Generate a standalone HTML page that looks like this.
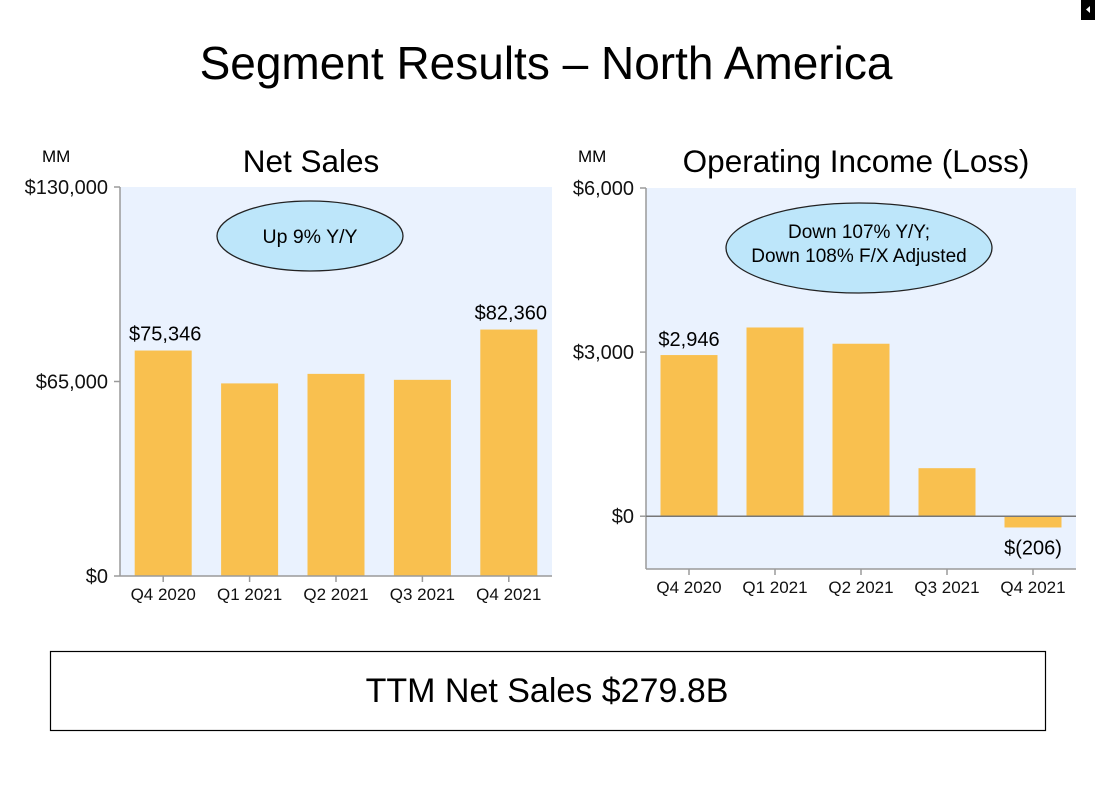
<!DOCTYPE html>
<html><head><meta charset="utf-8">
<style>
body{margin:0;background:#fff;}
svg{display:block;font-family:"Liberation Sans",Arial,sans-serif;}
</style></head>
<body>
<svg id="s" width="1095" height="800" viewBox="0 0 1095 800">
  <rect x="1081" y="0" width="14" height="20" fill="#000"/>
  <polygon points="1090,6 1090,13 1086,9.5" fill="#fff"/>
  <text x="546" y="79" font-size="46" text-anchor="middle">Segment Results – North America</text>
  <g id="left"></g>
  <g id="right"></g>
  <text x="42" y="162" font-size="17">MM</text>
  <text x="311" y="172" font-size="31.5" text-anchor="middle">Net Sales</text>
  <ellipse cx="310" cy="236" rx="93" ry="35" fill="#bde6fa" stroke="#222" stroke-width="1.3"/>
  <text x="310" y="243" font-size="19.5" text-anchor="middle">Up 9% Y/Y</text>
  <text x="578" y="162" font-size="17">MM</text>
  <text x="856" y="172" font-size="31.5" text-anchor="middle">Operating Income (Loss)</text>
  <ellipse cx="859" cy="248" rx="133" ry="45" fill="#bde6fa" stroke="#222" stroke-width="1.3"/>
  <text x="859" y="238" font-size="19" text-anchor="middle">Down 107% Y/Y;</text>
  <text x="859" y="262" font-size="19" text-anchor="middle">Down 108% F/X Adjusted</text>
  <rect x="50.5" y="651.5" width="995" height="79" fill="#fff" stroke="#000" stroke-width="1.2"/>
  <text x="547" y="702" font-size="34" text-anchor="middle">TTM Net Sales $279.8B</text>
</svg>
<script>
const categories = ["Q4 2020","Q1 2021","Q2 2021","Q3 2021","Q4 2021"];
const salesValues = [75346, 64366, 67550, 65557, 82360];
const salesTicks = [0, 65000, 130000];
const salesTickLabels = ["$0","$65,000","$130,000"];
const incomeValues = [2946, 3450, 3153, 878, -206];
const incomeTicks = [0, 3000, 6000];
const incomeTickLabels = ["$0","$3,000","$6,000"];

const NS="http://www.w3.org/2000/svg";
function mk(parent, tag, attrs, txt){
  const e=document.createElementNS(NS,tag);
  for(const k in attrs) e.setAttribute(k,attrs[k]);
  if(txt!==undefined) e.textContent=txt;
  parent.appendChild(e); return e;
}
function chart(g, cfg){
  const {x0,x1,yTop,yBot,vmin,vmax,values,ticks,tickLabels,prefix}=cfg;
  const y=v=>yBot-(v-vmin)/(vmax-vmin)*(yBot-yTop);
  const bw=(x1-x0)/categories.length;
  const xc=i=>x0+bw*(i+0.5);
  const bg=mk(g,'rect',{x:x0,y:yTop,width:x1-x0,height:yBot-yTop,fill:'#eaf2fe'});
  
  
  values.forEach((v,i)=>{
    const top=Math.min(y(v),y(0)), h=Math.abs(y(v)-y(0));
    const r=mk(g,'rect',{x:xc(i)-28.5,y:top,width:57,height:h,fill:'#f9c04f'});
    
    
  });
  const ax=mk(g,'line',{x1:x0,y1:yTop,x2:x0,y2:yBot,stroke:'#9a9a9a','stroke-width':1.5});
  
  
  const bx=mk(g,'line',{x1:x0,y1:yBot,x2:x1,y2:yBot,stroke:'#9a9a9a','stroke-width':1.5});
  
  
  if(vmin<0){
    const z=mk(g,'line',{x1:x0,y1:y(0),x2:x1,y2:y(0),stroke:'#777','stroke-width':1.5});
    
    
  }
  ticks.forEach((t,i)=>{
    const tk=mk(g,'line',{x1:x0-6,y1:y(t),x2:x0,y2:y(t),stroke:'#9a9a9a','stroke-width':1.5});
    
    
    const tl=mk(g,'text',{x:x0-12,y:y(t)+7,'font-size':20,'text-anchor':'end',fill:'#111'},tickLabels[i]);
    
    
  });
  categories.forEach((c,i)=>{
    const tk=mk(g,'line',{x1:xc(i),y1:yBot,x2:xc(i),y2:yBot+6,stroke:'#9a9a9a','stroke-width':1.5});
    
    
    const tl=mk(g,'text',{x:xc(i),y:yBot+24,'font-size':17,'text-anchor':'middle',fill:'#111'},c);
    
    
  });
  return {y,xc};
}
function fmt(v){return v<0?'$('+Math.abs(v).toLocaleString('en-US')+')':'$'+v.toLocaleString('en-US');}

const L=document.getElementById('left');
const lc=chart(L,{x0:120,x1:552,yTop:187,yBot:576,vmin:0,vmax:130000,values:salesValues,ticks:salesTicks,tickLabels:salesTickLabels,prefix:'sales'});
[0,4].forEach(i=>{
  const t=mk(L,'text',{x:lc.xc(i)+2,y:lc.y(salesValues[i])-10,'font-size':20,'text-anchor':'middle'},fmt(salesValues[i]));
  
  
});
const R=document.getElementById('right');
const rc=chart(R,{x0:646,x1:1076,yTop:188,yBot:569,vmin:-965,vmax:6000,values:incomeValues,ticks:incomeTicks,tickLabels:incomeTickLabels,prefix:'income'});
{
  const t=mk(R,'text',{x:rc.xc(0),y:rc.y(incomeValues[0])-9,'font-size':20,'text-anchor':'middle'},fmt(incomeValues[0]));
  
  
  const t2=mk(R,'text',{x:rc.xc(4),y:rc.y(incomeValues[4])+27,'font-size':20,'text-anchor':'middle'},fmt(incomeValues[4]));
  
  
}
</script>
</body></html>
